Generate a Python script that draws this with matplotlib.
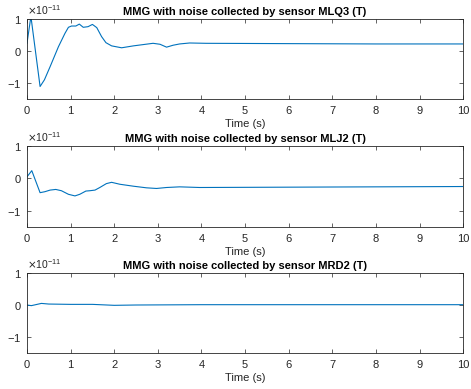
import matplotlib
matplotlib.use("Agg")
import matplotlib.pyplot as plt
from matplotlib.ticker import ScalarFormatter
import numpy as np

plt.rcParams['font.family'] = ['Liberation Sans', 'DejaVu Sans']
plt.rcParams['axes.unicode_minus'] = False

# MMG traces, values in units of 1e-11 T
t_mlq3 = [0, 0.09, 0.3, 0.4, 0.53, 0.72, 0.87, 0.95, 1.02, 1.12, 1.2, 1.29, 1.4, 1.5,
          1.6, 1.71, 1.81, 1.94, 2.17, 2.44, 2.89, 3.05, 3.2, 3.35, 3.5, 3.73, 4.1,
          6.0, 8.0, 10.0]
b_mlq3 = [0.24, 1.08, -1.11, -0.9, -0.49, 0.13, 0.55, 0.74, 0.78, 0.78, 0.84, 0.74,
          0.76, 0.83, 0.73, 0.45, 0.26, 0.16, 0.10, 0.16, 0.24, 0.21, 0.12, 0.18, 0.22,
          0.25, 0.24, 0.23, 0.22, 0.22]

t_mlj2 = [0, 0.11, 0.3, 0.41, 0.53, 0.66, 0.79, 0.95, 1.1, 1.21, 1.35, 1.44, 1.56,
          1.67, 1.82, 1.94, 2.13, 2.44, 2.74, 2.97, 3.2, 3.5, 3.96, 6.0, 8.0, 10.0]
b_mlj2 = [0.05, 0.24, -0.44, -0.41, -0.36, -0.34, -0.38, -0.49, -0.54, -0.49, -0.39,
          -0.38, -0.36, -0.28, -0.16, -0.12, -0.18, -0.24, -0.29, -0.31, -0.28, -0.26,
          -0.28, -0.27, -0.26, -0.25]

t_mrd2 = [0, 0.1, 0.33, 0.5, 1.0, 1.5, 2.0, 2.5, 4.0, 6.0, 8.0, 10.0]
b_mrd2 = [0.0, -0.02, 0.05, 0.03, 0.02, 0.02, -0.01, 0.0, 0.01, 0.01, 0.01, 0.01]

sensors = ['MLQ3', 'MLJ2', 'MRD2']
traces = [(t_mlq3, b_mlq3), (t_mlj2, b_mlj2), (t_mrd2, b_mrd2)]
xticks = list(range(0, 11))
yticks = [-1, 0, 1]
scale = 1e-11

line_color = '#0072BD'
axis_color = '#262626'

fig = plt.figure(figsize=(4.71, 3.89), dpi=100)
positions = [
    [0.0573, 0.7455, 0.926, 0.2057],
    [0.0573, 0.4165, 0.926, 0.2080],
    [0.0573, 0.0925, 0.926, 0.2057],
]

for pos, name, (t, b) in zip(positions, sensors, traces):
    ax = fig.add_axes(pos)
    ax.plot(t, np.array(b) * scale, color=line_color, lw=0.8)
    ax.set_xlim(0, 10)
    ax.set_ylim(-1.5 * scale, 1.0 * scale)
    ax.set_xticks(xticks)
    ax.set_yticks(np.array(yticks) * scale)
    fmt = ScalarFormatter(useMathText=True)
    fmt.set_powerlimits((0, 0))
    ax.yaxis.set_major_formatter(fmt)
    ax.yaxis.get_offset_text().set_fontsize(7.5)
    ax.yaxis.get_offset_text().set_color(axis_color)
    ax.tick_params(direction='in', length=3, width=0.5, top=True, right=True,
                   labelsize=8, colors=axis_color)
    ax.tick_params(axis='x', pad=5)
    ax.tick_params(axis='y', pad=4)
    for sp in ax.spines.values():
        sp.set_linewidth(0.6)
        sp.set_color(axis_color)
    ax.set_title(f'MMG with noise collected by sensor {name} (T)',
                 fontsize=8, fontweight='bold', pad=3, color='black')
    ax.set_xlabel('Time (s)', fontsize=8, color=axis_color, labelpad=2)

fig.savefig('out.png', dpi=100)
